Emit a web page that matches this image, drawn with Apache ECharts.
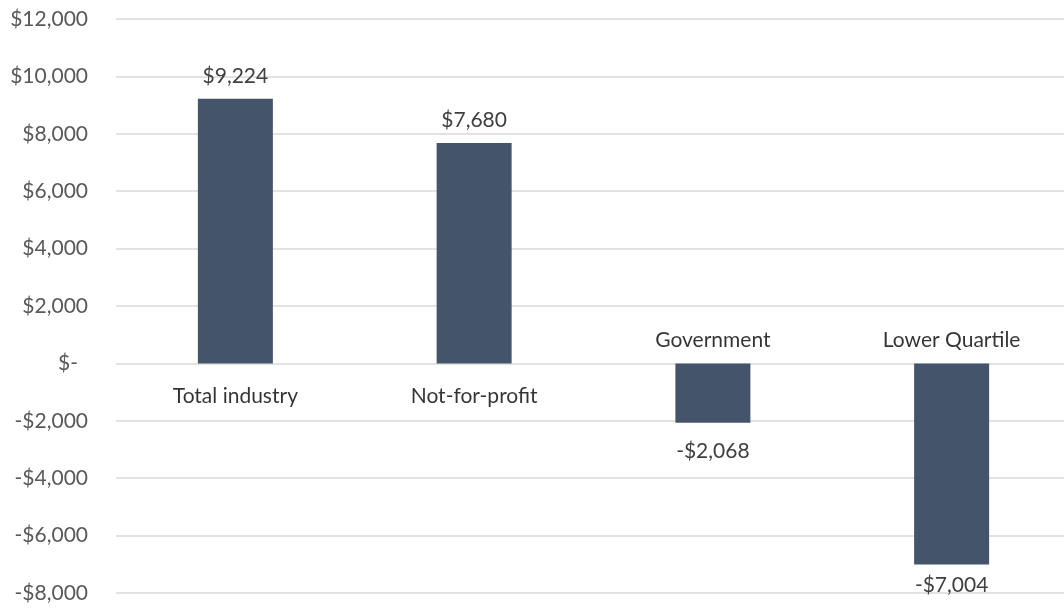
<!DOCTYPE html>
<html>
<head>
<meta charset="utf-8">
<script src="https://cdn.jsdelivr.net/npm/echarts@6/dist/echarts.min.js"></script>
<style>
  html, body { margin: 0; padding: 0; background: #fff; overflow: hidden; }
  /* the plot runs a few pixels past the right edge of the window */
  #chart { width: 1072px; height: 608px; }
</style>
</head>
<body>
<div id="chart"></div>
<script>
// Operating result by sector
const categories = ['Total industry', 'Not-for-profit', 'Government', 'Lower Quartile'];
const values = [9224, 7680, -2068, -7004];
const yTicks = { min: -8000, max: 12000, interval: 2000 };

const FONT = 'Lato, "Open Sans", sans-serif';
const FS = 21;
const BAR = '#44546A';

function money(v) {
  if (v === 0) return '$-';
  const s = '$' + Math.abs(v).toLocaleString('en-US');
  return v < 0 ? '-' + s : s;
}

// the deepest value label is tucked closer to its bar so it stays inside the chart
function valueGap(v) {
  if (v >= 0) return 12;
  return v < -6000 ? 10 : 18;
}

const chart = echarts.init(document.getElementById('chart'));
chart.setOption({
  animation: false,
  grid: { left: 116, top: 19, width: 955, bottom: 15, containLabel: false },
  xAxis: {
    type: 'category',
    data: categories,
    axisLine: { show: false },
    axisTick: { show: false },
    axisLabel: { show: false },
    splitLine: { show: false }
  },
  yAxis: {
    type: 'value',
    min: yTicks.min,
    max: yTicks.max,
    interval: yTicks.interval,
    axisLine: { show: false },
    axisTick: { show: false },
    splitLine: { lineStyle: { color: '#d9d9d9', width: 1.5 } },
    axisLabel: {
      margin: 28,
      color: '#595959',
      fontSize: FS,
      fontFamily: FONT,
      formatter: v => v === 0 ? '{z|$-}' : money(v),
      rich: { z: { color: '#595959', fontSize: FS, fontFamily: FONT, padding: [0, 10, 0, 0] } }
    }
  },
  series: [
    {
      type: 'bar',
      barWidth: 75,
      itemStyle: { color: BAR },
      data: values.map(v => ({
        value: v,
        label: {
          show: true,
          position: v >= 0 ? 'top' : 'bottom',
          distance: valueGap(v),
          formatter: p => money(p.value),
          color: '#404040',
          fontSize: FS,
          fontFamily: FONT
        }
      }))
    },
    {
      // category names sit on the zero line, on the side away from the bar
      type: 'scatter',
      symbolSize: 0,
      silent: true,
      data: categories.map((c, i) => ({
        value: [c, 0],
        label: {
          show: true,
          position: values[i] >= 0 ? 'bottom' : 'top',
          distance: values[i] >= 0 ? 22 : 13,
          formatter: c,
          color: '#000',
          fontSize: FS,
          fontFamily: FONT
        }
      }))
    }
  ]
});
</script>
</body>
</html>
